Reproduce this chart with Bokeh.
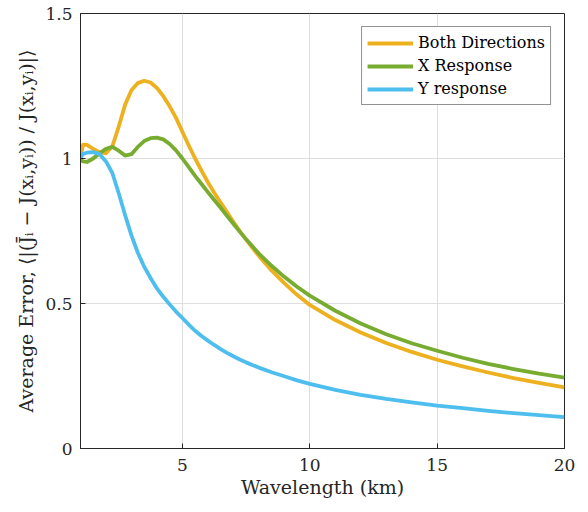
from bokeh.plotting import figure
from bokeh.models import FixedTicker, Legend, LegendItem, Range1d
from bokeh.embed import file_html
from bokeh.resources import INLINE

wavelength = [1.0, 1.1, 1.25, 1.5, 1.75, 2.0, 2.25, 2.5, 2.75, 3.0, 3.25, 3.5, 3.75,
              4.0, 4.25, 4.5, 4.75, 5.0, 5.25, 5.5, 5.75, 6.0, 6.25, 6.5, 6.75, 7.0,
              7.25, 7.5, 8.0, 8.5, 9.0, 9.5, 10, 11, 12, 13, 14, 15, 16, 17, 18, 19, 20]

both_directions = [1.005, 1.048, 1.047, 1.033, 1.022, 1.018, 1.042, 1.11, 1.185, 1.235,
                   1.26, 1.268, 1.262, 1.243, 1.215, 1.18, 1.14, 1.092, 1.045, 1.0, 0.958,
                   0.918, 0.882, 0.848, 0.815, 0.782, 0.75, 0.72, 0.664, 0.614, 0.57, 0.53,
                   0.495, 0.443, 0.40, 0.364, 0.333, 0.306, 0.283, 0.262, 0.243, 0.226,
                   0.211]

x_response = [0.997, 0.99, 0.988, 1.0, 1.018, 1.033, 1.04, 1.027, 1.01, 1.015, 1.04,
              1.06, 1.07, 1.072, 1.066, 1.05, 1.028, 1.0, 0.97, 0.94, 0.912, 0.884,
              0.857, 0.83, 0.802, 0.775, 0.748, 0.722, 0.672, 0.63, 0.592, 0.558,
              0.527, 0.475, 0.431, 0.394, 0.363, 0.337, 0.313, 0.292, 0.274, 0.258,
              0.244]

y_response = [1.003, 1.016, 1.02, 1.022, 1.015, 0.99, 0.95, 0.88, 0.805, 0.735, 0.675,
              0.627, 0.588, 0.552, 0.523, 0.497, 0.472, 0.45, 0.427, 0.406, 0.388,
              0.372, 0.357, 0.343, 0.33, 0.318, 0.307, 0.297, 0.279, 0.263, 0.249,
              0.235, 0.223, 0.202, 0.185, 0.171, 0.159, 0.148, 0.139, 0.13, 0.122,
              0.115, 0.108]

series_names = ["Both Directions", "X Response", "Y response"]
series_colors = ["#EDB120", "#77AC30", "#4DBEEE"]

x_ticks = [5, 10, 15, 20]
y_ticks = [0, 0.5, 1, 1.5]
y_tick_labels = ["0", "0.5", "1", "1.5"]

FONT = "DejaVu Serif"
DARK = "#262626"

p = figure(frame_width=484, frame_height=435, output_backend="svg", toolbar_location=None,
           x_range=Range1d(1, 20), y_range=Range1d(0, 1.5),
           min_border_left=80, min_border_right=22, min_border_top=13, min_border_bottom=62)

renderers = []
for ys, c in zip([both_directions, x_response, y_response], series_colors):
    r = p.line(wavelength, ys, line_color=c, line_width=3.8, line_join="round")
    renderers.append(r)

p.xaxis.ticker = FixedTicker(ticks=x_ticks)
p.yaxis.ticker = FixedTicker(ticks=y_ticks)
p.yaxis.major_label_overrides = {t: s for t, s in zip(y_ticks, y_tick_labels)}

p.xaxis.axis_label = "Wavelength (km)"
p.yaxis.axis_label = "Average Error, ⟨|(J̄ᵢ − J(xᵢ,yᵢ)) / J(xᵢ,yᵢ)|⟩"

for ax in (p.xaxis[0], p.yaxis[0]):
    ax.axis_line_color = DARK
    ax.major_tick_line_color = DARK
    ax.minor_tick_line_color = None
    ax.major_tick_in = 5
    ax.major_tick_out = 0
    ax.major_label_text_font = FONT
    ax.major_label_text_font_size = "17px"
    ax.major_label_text_color = DARK
    ax.axis_label_text_font = FONT
    ax.axis_label_text_font_size = "19px"
    ax.axis_label_text_font_style = "normal"
    ax.axis_label_text_color = DARK
p.xaxis.major_label_standoff = 10
p.yaxis.major_label_standoff = 8
p.xaxis.axis_label_standoff = 2
p.yaxis.axis_label_standoff = 5

p.grid.grid_line_color = "#dedede"
p.grid.grid_line_width = 1
p.outline_line_color = DARK
p.outline_line_width = 1
p.background_fill_color = "white"
p.border_fill_color = "white"

legend = Legend(items=[LegendItem(label=n, renderers=[r]) for n, r in zip(series_names, renderers)],
                location="top_right")
legend.label_text_font = FONT
legend.label_text_font_size = "16px"
legend.label_text_color = "black"
legend.glyph_width = 46
legend.glyph_height = 20
legend.label_height = 21
legend.label_width = 124
legend.label_standoff = 5
legend.spacing = 2
legend.padding = 5
legend.margin = 13
legend.border_line_color = DARK
legend.border_line_width = 1
legend.background_fill_color = "white"
legend.background_fill_alpha = 1
p.add_layout(legend)

open("out.html", "w").write(file_html(p, INLINE))
